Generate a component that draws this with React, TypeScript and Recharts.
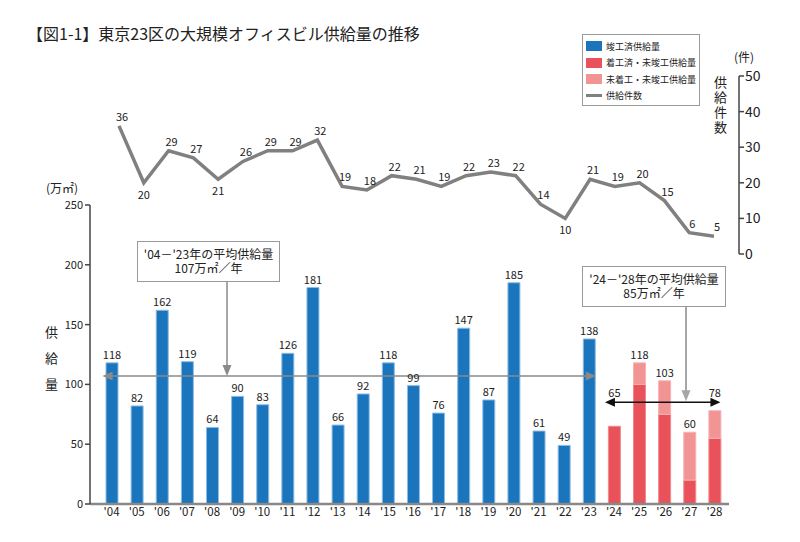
import React from 'react';
import { ComposedChart, Bar, Line, XAxis, YAxis, LabelList, ReferenceLine } from 'recharts';

const years = ["'04", "'05", "'06", "'07", "'08", "'09", "'10", "'11", "'12", "'13", "'14", "'15", "'16", "'17", "'18", "'19", "'20", "'21", "'22", "'23", "'24", "'25", "'26", "'27", "'28"];
// 竣工済供給量 (万㎡)
const completed = [118, 82, 162, 119, 64, 90, 83, 126, 181, 66, 92, 118, 99, 76, 147, 87, 185, 61, 49, 138, 0, 0, 0, 0, 0];
// 着工済・未竣工供給量
const underConstruction = [0, 0, 0, 0, 0, 0, 0, 0, 0, 0, 0, 0, 0, 0, 0, 0, 0, 0, 0, 0, 65, 100, 75, 20, 55];
// 未着工・未竣工供給量
const notStarted = [0, 0, 0, 0, 0, 0, 0, 0, 0, 0, 0, 0, 0, 0, 0, 0, 0, 0, 0, 0, 0, 18, 28, 40, 23];
// 供給件数
const counts = [36, 20, 29, 27, 21, 26, 29, 29, 32, 19, 18, 22, 21, 19, 22, 23, 22, 14, 10, 21, 19, 20, 15, 6, 5];
const areaTicks = [0, 50, 100, 150, 200, 250];
const countTicks = [0, 10, 20, 30, 40, 50];
const pastAverage = 107;
const futureAverage = 85;
// count labels drawn under the point instead of above
const countLabelsBelow = ["'05", "'08", "'22"];

const data = years.map((year, i) => ({
  year,
  completed: completed[i],
  underConstruction: underConstruction[i],
  notStarted: notStarted[i],
  count: counts[i],
}));
const totals = years.map((_, i) => completed[i] + underConstruction[i] + notStarted[i]);

const FONT = '"Noto Sans CJK JP", "Noto Sans", sans-serif';
const BLUE = '#1b75bc';
const RED = '#e9525a';
const PINK = '#f29394';
const GRAY = '#808080';

// bar plot geometry (used only to keep the '24/'28 labels clear of the black arrow)
const BAR_TOP = 205;
const BAR_BOTTOM = 504;

// the LabelList reads the year, so the label can find its column
const makeBarLabel = (show: (i: number) => boolean) => (props: any) => {
  const { x, y, width, value } = props;
  const index = years.indexOf(value);
  if (index < 0 || !show(index)) return null;
  let ty = y - 4;
  if (index === 20 || index === years.length - 1) {
    const arrowY = BAR_BOTTOM - (futureAverage * (BAR_BOTTOM - BAR_TOP)) / 250;
    ty = Math.min(ty, arrowY - 5);
  }
  return (
    <text x={x + width / 2} y={ty} textAnchor="middle" fontSize={11} fill="#222" fontFamily={FONT}>
      {totals[index]}
    </text>
  );
};

const CountLabel = (props: any) => {
  const { x, y, value } = props;
  const index = years.indexOf(value);
  if (index < 0) return null;
  const below = countLabelsBelow.includes(years[index]);
  return (
    <text
      x={below ? x : x + 3}
      y={below ? y + 11 : y - 10}
      textAnchor="middle"
      dominantBaseline="central"
      fontSize={11}
      fill="#222"
      fontFamily={FONT}
    >
      {counts[index]}
    </text>
  );
};

const PastAverageShape = (p: any) => {
  const y = p.y1;
  const xa = p.x1 - 9;
  const xb = p.x2 + 7;
  const c = '#8a8a8a';
  return (
    <g>
      <line x1={xa + 6} y1={y} x2={xb - 6} y2={y} stroke={c} strokeWidth={1.5} />
      <polygon points={`${xa},${y} ${xa + 10},${y - 4.5} ${xa + 10},${y + 4.5}`} fill={c} />
      <polygon points={`${xb},${y} ${xb - 10},${y - 4.5} ${xb - 10},${y + 4.5}`} fill={c} />
      <line x1={227} y1={282} x2={227} y2={y - 8} stroke={c} strokeWidth={1.5} />
      <polygon points={`227,${y} 222.5,${y - 11} 231.5,${y - 11}`} fill={c} />
    </g>
  );
};

const FutureAverageShape = (p: any) => {
  const y = p.y1;
  const xa = p.x1 - 9;
  const xb = p.x2 + 6;
  const g = '#a6a6a6';
  return (
    <g>
      <line x1={686} y1={307} x2={686} y2={y - 8} stroke={g} strokeWidth={2} />
      <polygon points={`686,${y - 1} 681.5,${y - 12} 690.5,${y - 12}`} fill={g} />
      <line x1={xa + 6} y1={y} x2={xb - 6} y2={y} stroke="#111" strokeWidth={1.5} />
      <polygon points={`${xa},${y} ${xa + 10},${y - 4.5} ${xa + 10},${y + 4.5}`} fill="#111" />
      <polygon points={`${xb},${y} ${xb - 10},${y - 4.5} ${xb - 10},${y + 4.5}`} fill="#111" />
    </g>
  );
};

const legendItems = [
  { label: '竣工済供給量', color: BLUE, type: 'box' },
  { label: '着工済・未竣工供給量', color: RED, type: 'box' },
  { label: '未着工・未竣工供給量', color: PINK, type: 'box' },
  { label: '供給件数', color: GRAY, type: 'line' },
];

const abs = (left: number, top: number, extra: React.CSSProperties = {}): React.CSSProperties => ({
  position: 'absolute',
  left,
  top,
  fontFamily: FONT,
  color: '#222',
  whiteSpace: 'nowrap',
  ...extra,
});

// one vertical text run; letter spacing sets the distance between characters
const VerticalText: React.FC<{ text: string; left: number; top: number; size: number; step: number }> = ({ text, left, top, size, step }) => (
  <div
    style={abs(left, top, {
      fontSize: size,
      lineHeight: `${size}px`,
      writingMode: 'vertical-rl',
      textOrientation: 'upright',
      letterSpacing: step - size,
    })}
  >
    {text}
  </div>
);

const boxStyle = (left: number, top: number, width: number): React.CSSProperties =>
  abs(left, top, {
    width,
    height: 41,
    border: '1.5px solid #999',
    boxSizing: 'border-box',
    background: '#fff',
    fontSize: 12,
    lineHeight: '14px',
    textAlign: 'center',
    paddingTop: 5,
    whiteSpace: 'pre',
  });

const App: React.FC = () => {
  return (
    <div style={{ position: 'absolute', left: 0, top: 0, width: 800, height: 542, background: '#fff', overflow: 'hidden' }}>
      {/* 供給件数 line */}
      <div style={{ position: 'absolute', left: 0, top: 0 }}>
        <ComposedChart width={800} height={542} data={data} margin={{ top: 76, right: 21, bottom: 288, left: 90 }}>
          <XAxis dataKey="year" hide scale="point" padding={{ left: 29, right: 25 }} />
          <YAxis
            orientation="right"
            width={40}
            domain={[0, 50]}
            ticks={countTicks}
            axisLine={{ stroke: '#444', strokeWidth: 1.5 }}
            tickLine={{ stroke: '#444', strokeWidth: 1.5 }}
            tickSize={5}
            tickMargin={1}
            tick={{ fontSize: 14, fill: '#222', fontFamily: FONT }}
          />
          <Line dataKey="count" type="linear" stroke={GRAY} strokeWidth={3.5} dot={false} isAnimationActive={false}>
            <LabelList dataKey="year" content={CountLabel} />
          </Line>
        </ComposedChart>
      </div>

      {/* 供給量 bars */}
      <div style={{ position: 'absolute', left: 0, top: 0 }}>
        <ComposedChart width={800} height={542} data={data} margin={{ top: BAR_TOP, right: 71, bottom: 8, left: 50 }}>
          <XAxis
            dataKey="year"
            padding={{ left: 9, right: 2 }}
            height={30}
            axisLine={{ stroke: '#888', strokeWidth: 2.5 }}
            tickLine={false}
            tickSize={2}
            interval={0}
            tick={{ fontSize: 11.5, fill: '#222', fontFamily: FONT }}
          />
          <YAxis
            width={40}
            domain={[0, 250]}
            ticks={areaTicks}
            axisLine={{ stroke: '#444', strokeWidth: 1.5 }}
            tickLine={{ stroke: '#444', strokeWidth: 1.5 }}
            tickSize={5}
            tickMargin={2}
            tick={{ fontSize: 11, fill: '#222', fontFamily: FONT }}
          />
          <Bar dataKey="completed" stackId="a" fill={BLUE} stroke="#8dbde6" strokeWidth={1} barSize={12} isAnimationActive={false}>
            <LabelList dataKey="year" content={makeBarLabel((i) => completed[i] > 0)} />
          </Bar>
          <Bar dataKey="underConstruction" stackId="a" fill={RED} stroke="#f08a8e" strokeWidth={1} barSize={12} isAnimationActive={false}>
            <LabelList dataKey="year" content={makeBarLabel((i) => underConstruction[i] > 0 && notStarted[i] === 0)} />
          </Bar>
          <Bar dataKey="notStarted" stackId="a" fill={PINK} stroke="#f6b3b4" strokeWidth={1} barSize={12} isAnimationActive={false}>
            <LabelList dataKey="year" content={makeBarLabel((i) => notStarted[i] > 0)} />
          </Bar>
          <ReferenceLine
            segment={[
              { x: years[0], y: pastAverage },
              { x: years[19], y: pastAverage },
            ]}
            shape={PastAverageShape}
          />
          <ReferenceLine
            segment={[
              { x: years[20], y: futureAverage },
              { x: years[24], y: futureAverage },
            ]}
            shape={FutureAverageShape}
          />
        </ComposedChart>
      </div>

      {/* title */}
      <div style={abs(27, 22, { fontSize: 16, lineHeight: '22px' })}>【図1-1】東京23区の大規模オフィスビル供給量の推移</div>

      {/* legend */}
      <div
        style={abs(582, 34, {
          width: 118,
          height: 72,
          border: '1.5px solid #999',
          background: '#fff',
          fontSize: 9,
          paddingTop: 3,
          boxSizing: 'border-box',
        })}
      >
        {legendItems.map((it) => (
          <div key={it.label} style={{ display: 'flex', alignItems: 'center', height: 16.5, paddingLeft: 3 }}>
            {it.type === 'box' ? (
              <span style={{ display: 'inline-block', width: 16, height: 10, background: it.color, marginRight: 4 }} />
            ) : (
              <span style={{ display: 'inline-block', width: 16, height: 3, background: it.color, marginRight: 4 }} />
            )}
            <span>{it.label}</span>
          </div>
        ))}
      </div>

      {/* right axis title */}
      <div style={abs(734, 48, { fontSize: 12 })}>(件)</div>
      <VerticalText text="供給件数" left={714} top={76} size={13} step={15} />

      {/* left axis title */}
      <div style={abs(46, 179, { fontSize: 12 })}>(万㎡)</div>
      <VerticalText text="供給量" left={45} top={326} size={13} step={26} />

      {/* average boxes */}
      <div style={boxStyle(137, 241, 143)}>{"'04－'23年の平均供給量\n107万㎡／年"}</div>
      <div style={boxStyle(582, 266, 144)}>{"'24－'28年の平均供給量\n85万㎡／年"}</div>
    </div>
  );
};

export default App;
